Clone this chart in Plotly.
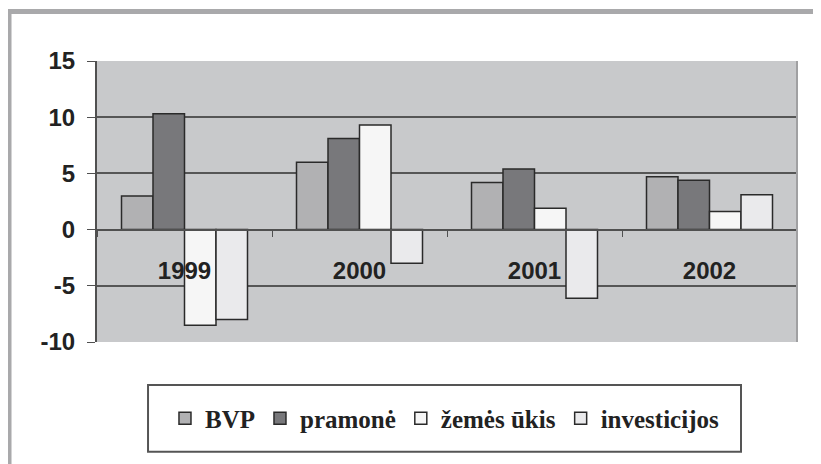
import plotly.graph_objects as go

years = ["1999", "2000", "2001", "2002"]
bvp = [3.0, 6.0, 4.2, 4.7]
pramone = [10.3, 8.1, 5.4, 4.4]
zemes_ukis = [-8.5, 9.3, 1.9, 1.6]
investicijos = [-8.0, -3.0, -6.1, 3.1]
y_ticks = [-10, -5, 0, 5, 10, 15]
y_tick_text = ["-10", "-5", "0", "5", "10", "15"]

series = [
    ("BVP", bvp, "#b1b1b3"),
    ("pramonė", pramone, "#78787b"),
    ("žemės ūkis", zemes_ukis, "#f6f6f6"),
    ("investicijos", investicijos, "#eaeaec"),
]

fig = go.Figure()
for name, vals, col in series:
    fig.add_trace(go.Bar(
        x=years, y=vals, name=name,
        marker=dict(color=col, line=dict(color="#2a2a2a", width=1.5)),
    ))

axis_font = dict(family="Liberation Sans", size=24, color="#222222", weight="bold")

fig.update_layout(
    width=813, height=456,
    margin=dict(l=89, r=24, t=53, b=122),
    paper_bgcolor="white",
    plot_bgcolor="#c8c9cb",
    barmode="group", bargap=0.28, bargroupgap=0,
    showlegend=True,
    legend=dict(
        orientation="h", x=0.4964, y=-0.272, xanchor="center", yanchor="middle",
        borderwidth=0, bgcolor="rgba(0,0,0,0)",
        font=dict(family="Liberation Serif", size=25, color="#222222", weight="bold"),
        itemwidth=30, tracegroupgap=0,
    ),
    xaxis=dict(
        type="category", range=[-0.5, 3.5],
        anchor="free", position=0.4,
        showline=True, linecolor="#505050", linewidth=2,
        ticks="outside", tickson="boundaries", ticklen=6, tickcolor="#505050",
        tickfont=axis_font,
        ticklabelstandoff=20,
        showgrid=False,
    ),
    yaxis=dict(
        range=[-10, 15], tickvals=y_ticks, ticktext=y_tick_text,
        showgrid=True, gridcolor="#565656", gridwidth=2,
        zeroline=True, zerolinecolor="#565656", zerolinewidth=2,
        showline=True, linecolor="#505050", linewidth=2,
        ticks="outside", ticklen=8, tickcolor="#505050",
        tickfont=axis_font, ticklabelstandoff=7,
    ),
    shapes=[
        dict(type="rect", xref="paper", yref="paper", x0=-0.1257, x1=1.2, y0=-0.6, y1=1.176,
             line=dict(color="#a9a9ab", width=5), layer="below"),
        dict(type="line", xref="paper", yref="paper", x0=1, x1=1, y0=0, y1=1,
             line=dict(color="#a0a0a2", width=2)),
        dict(type="rect", xref="paper", yref="paper", x0=0.0729, x1=0.92, y0=-0.391, y1=-0.153,
             line=dict(color="#555555", width=2), fillcolor="white", layer="below"),
    ],
)

fig.write_html("out.html")
